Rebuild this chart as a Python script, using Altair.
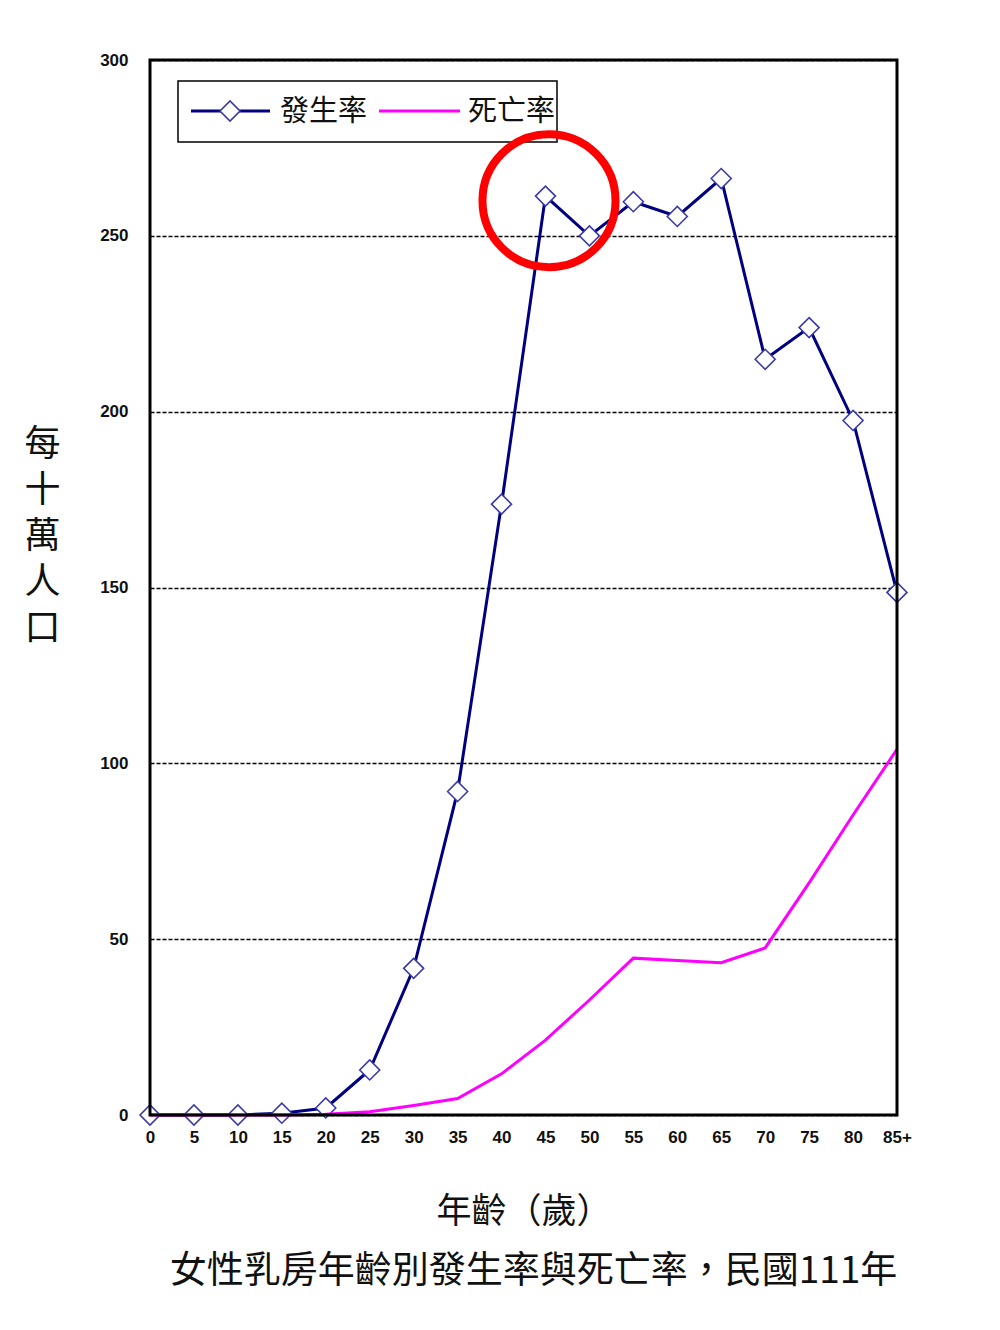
import altair as alt
import pandas as pd

# ---- data ----
ages = [0, 5, 10, 15, 20, 25, 30, 35, 40, 45, 50, 55, 60, 65, 70, 75, 80, 85]
incidence = [0, 0, 0, 0.5, 2.0, 12.8, 41.7, 92.0, 173.7, 261.3, 250.0, 259.7, 255.5, 266.3, 214.9, 223.9, 197.5, 148.6]
mortality = [0, 0, 0, 0, 0.2, 0.9, 2.7, 4.7, 11.7, 21.3, 32.7, 44.6, 43.9, 43.3, 47.5, 66.0, 85.3, 104.0]
series_names = ["發生率", "死亡率"]
series_colors = ["#000080", "#FF00FF"]
y_ticks = [0, 50, 100, 150, 200, 250, 300]
highlight_age = [45.4]
highlight_value = [260.0]

inc_df = pd.DataFrame({"age": ages, "value": incidence, "series": series_names[0]})
mor_df = pd.DataFrame({"age": ages, "value": mortality, "series": series_names[1]})
hl_df = pd.DataFrame({"age": highlight_age, "value": highlight_value})
one = pd.DataFrame({"k": [0]})

W, H = 747, 1055

x_enc = alt.X(
    "age:Q",
    scale=alt.Scale(domain=[0, 85], nice=False, zero=False),
    axis=alt.Axis(
        values=ages,
        labelExpr="datum.value == 85 ? '85+' : datum.label",
        grid=False,
        ticks=False,
        domain=False,
        labelFlush=False,
        labelOverlap=False,
        labelPadding=14,
        labelFont="Liberation Sans",
        labelFontWeight="bold",
        labelFontSize=17,
        labelColor="#111111",
        title="年齡（歲）",
        titleFont="Noto Sans CJK TC",
        titleFontWeight="normal",
        titleFontSize=35,
        titleColor="#111111",
        titleBaseline="middle",
        titleY=96,
    ),
)
y_enc = alt.Y(
    "value:Q",
    scale=alt.Scale(domain=[0, 300], nice=False),
    axis=alt.Axis(
        values=y_ticks,
        grid=True,
        gridColor="#000000",
        gridDash=[4, 2],
        gridWidth=1.6,
        ticks=False,
        domain=False,
        labelPadding=22,
        labelFont="Liberation Sans",
        labelFontWeight="bold",
        labelFontSize=17,
        labelColor="#111111",
        title=["每", "十", "萬", "人", "口"],
        titleAngle=0,
        titleAlign="center",
        titleBaseline="middle",
        titleX=-108,
        titleY=384,
        titleLineHeight=46,
        titleFont="Noto Sans CJK TC",
        titleFontWeight="normal",
        titleFontSize=36,
        titleColor="#111111",
    ),
)

inc_line = alt.Chart(inc_df).mark_line(color=series_colors[0], strokeWidth=3).encode(x=x_enc, y=y_enc)
inc_pts = alt.Chart(inc_df).mark_point(
    shape="diamond", size=400, filled=True, fill="white", stroke="#3a3aa8", strokeWidth=1.6, opacity=1
).encode(x="age:Q", y="value:Q")
mor_line = alt.Chart(mor_df).mark_line(color=series_colors[1], strokeWidth=3).encode(x="age:Q", y="value:Q")

# plot frame
frame = alt.Chart(one).mark_rect(fill=None, fillOpacity=0, stroke="black", strokeWidth=3).encode(
    x=alt.value(0), x2=alt.value(W), y=alt.value(0), y2=alt.value(H)
)

# legend box (drawn manually, inside the plot)
leg_box = alt.Chart(one).mark_rect(fill="white", stroke="black", strokeWidth=1.5).encode(
    x=alt.value(28), x2=alt.value(407), y=alt.value(21), y2=alt.value(82)
)
leg_rule1 = alt.Chart(one).mark_rule(color=series_colors[0], strokeWidth=3).encode(
    x=alt.value(41), x2=alt.value(120), y=alt.value(51)
)
leg_pt1 = alt.Chart(one).mark_point(
    shape="diamond", size=400, filled=True, fill="white", stroke="#3a3aa8", strokeWidth=1.6, opacity=1
).encode(x=alt.value(80), y=alt.value(51))
leg_txt1 = alt.Chart(one).mark_text(
    text=series_names[0], align="left", baseline="middle", font="Noto Sans CJK TC", fontSize=29, color="#111111"
).encode(x=alt.value(130), y=alt.value(52))
leg_rule2 = alt.Chart(one).mark_rule(color=series_colors[1], strokeWidth=3).encode(
    x=alt.value(229), x2=alt.value(310), y=alt.value(51)
)
leg_txt2 = alt.Chart(one).mark_text(
    text=series_names[1], align="left", baseline="middle", font="Noto Sans CJK TC", fontSize=29, color="#111111"
).encode(x=alt.value(318), y=alt.value(52))

highlight = alt.Chart(hl_df).mark_point(
    shape="circle", size=17700, filled=False, stroke="#FF0000", strokeWidth=8, opacity=1
).encode(x="age:Q", y="value:Q")

chart = (
    alt.layer(inc_line, inc_pts, mor_line, frame, leg_box, leg_rule1, leg_pt1, leg_txt1, leg_rule2, leg_txt2, highlight)
    .properties(
        width=W,
        height=H,
        autosize=alt.AutoSizeParams(type="none"),
        padding={"left": 142, "top": 52, "right": 95, "bottom": 205},
        title=alt.TitleParams(
            text="女性乳房年齡別發生率與死亡率，民國111年",
            orient="bottom",
            anchor="middle",
            font="Noto Sans CJK TC",
            fontWeight="normal",
            fontSize=37,
            color="#111111",
            baseline="top",
            offset=25,
            dx=10,
        ),
    )
    .configure_view(stroke=None)
    .configure(background="white")
)

chart.save("out.html", embed_options={"renderer": "svg", "actions": False})
